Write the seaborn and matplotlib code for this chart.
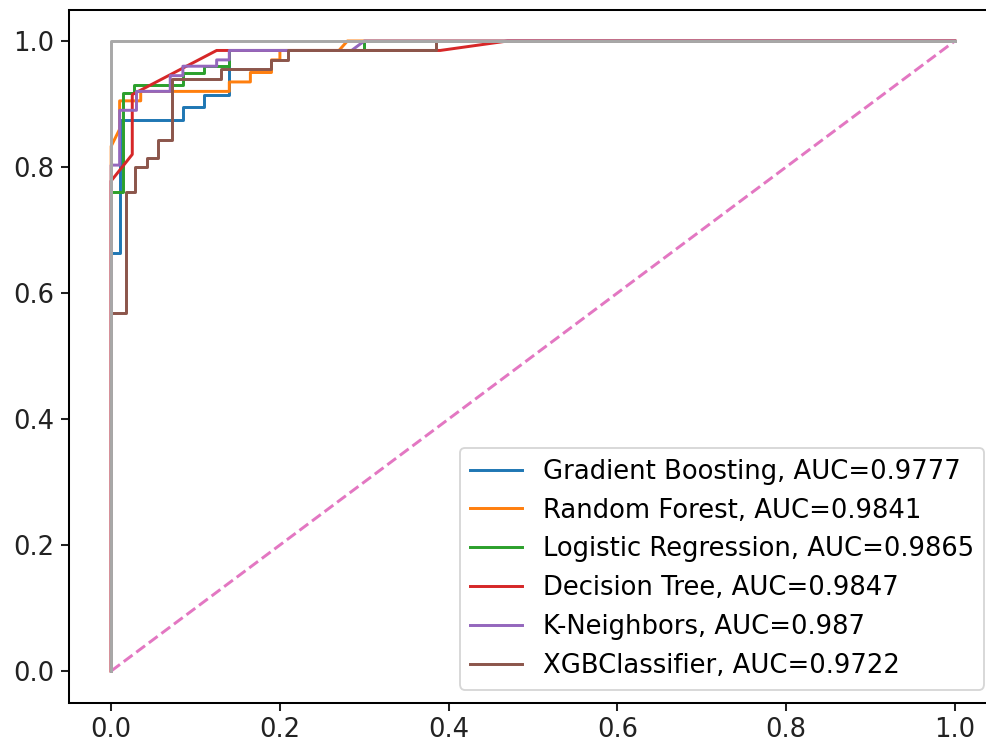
import numpy as np
import pandas as pd
import matplotlib
matplotlib.use("Agg")
import matplotlib.pyplot as plt
import seaborn as sns

# ROC curve points (fpr, tpr)
gb_fpr = [0, 0, 0.01, 0.01, 0.085, 0.085, 0.11, 0.11, 0.14, 0.14, 0.3, 0.3, 1]
gb_tpr = [0, 0.663, 0.663, 0.875, 0.875, 0.895, 0.895, 0.915, 0.915, 0.985, 0.985, 1.0, 1]

rf_fpr = [0, 0, 0.01, 0.01, 0.035, 0.035, 0.14, 0.14, 0.165, 0.165, 0.19, 0.19, 0.2, 0.2, 0.27, 0.28, 1]
rf_tpr = [0, 0.833, 0.86, 0.905, 0.905, 0.92, 0.92, 0.935, 0.935, 0.95, 0.95, 0.97, 0.97, 0.985, 0.985, 1.0, 1]

lr_fpr = [0, 0, 0.014, 0.014, 0.027, 0.027, 0.085, 0.085, 0.11, 0.11, 0.14, 0.14, 0.3, 0.3, 1]
lr_tpr = [0, 0.76, 0.76, 0.917, 0.917, 0.93, 0.93, 0.95, 0.95, 0.96, 0.96, 0.985, 0.985, 1.0, 1]

dt_fpr = [0, 0, 0.025, 0.025, 0.125, 0.39, 0.47, 1]
dt_tpr = [0, 0.778, 0.82, 0.915, 0.985, 0.985, 1.0, 1]

kn_fpr = [0, 0, 0.01, 0.01, 0.03, 0.03, 0.07, 0.07, 0.085, 0.085, 0.125, 0.125, 0.14, 0.14, 0.285, 0.3, 1]
kn_tpr = [0, 0.803, 0.803, 0.89, 0.89, 0.92, 0.92, 0.945, 0.945, 0.96, 0.96, 0.97, 0.97, 0.985, 0.985, 1.0, 1]

xgb_fpr = [0, 0, 0.017, 0.017, 0.028, 0.028, 0.043, 0.043, 0.056, 0.056, 0.072, 0.072,
           0.13, 0.13, 0.19, 0.19, 0.21, 0.21, 0.385, 0.385, 1]
xgb_tpr = [0, 0.568, 0.568, 0.76, 0.76, 0.8, 0.8, 0.815, 0.815, 0.843, 0.843, 0.94,
           0.94, 0.955, 0.955, 0.97, 0.97, 0.985, 0.985, 1.0, 1]

model_names = ["Gradient Boosting", "Random Forest", "Logistic Regression",
               "Decision Tree", "K-Neighbors", "XGBClassifier"]
auc_values = ["0.9777", "0.9841", "0.9865", "0.9847", "0.987", "0.9722"]

chance_x = [0, 1]
chance_y = [0, 1]
perfect_x = [0, 0, 1]
perfect_y = [0, 1, 1]

curves = [(gb_fpr, gb_tpr), (rf_fpr, rf_tpr), (lr_fpr, lr_tpr),
          (dt_fpr, dt_tpr), (kn_fpr, kn_tpr), (xgb_fpr, xgb_tpr)]
colors = ["#1f77b4", "#ff7f0e", "#2ca02c", "#d62728", "#9467bd", "#8c564b"]

DPI = 133
fig = plt.figure(figsize=(986 / DPI, 746 / DPI), dpi=DPI)
ax = fig.add_axes([69 / 986, 1 - 702.5 / 746, 928 / 986, 693 / 746])

LW = 1.6
for (fx, ty), name, auc, c in zip(curves, model_names, auc_values, colors):
    df = pd.DataFrame({"fpr": fx, "tpr": ty})
    sns.lineplot(data=df, x="fpr", y="tpr", sort=False, estimator=None,
                 color=c, linewidth=LW, label=f"{name}, AUC={auc}", ax=ax)

sns.lineplot(x=chance_x, y=chance_y, sort=False, estimator=None, color="#e377c2",
             linestyle="--", linewidth=LW, ax=ax)
sns.lineplot(x=perfect_x, y=perfect_y, sort=False, estimator=None, color="#a8a8a8",
             linewidth=LW, ax=ax)

ax.set_xlim(-0.05, 1.05)
ax.set_ylim(-0.05, 1.05)
ax.set_xticks([0, 0.2, 0.4, 0.6, 0.8, 1.0])
ax.set_yticks([0, 0.2, 0.4, 0.6, 0.8, 1.0])
ax.tick_params(labelsize=14, length=4.5, width=1.1, colors="#222222", labelcolor="#222222")
for s in ax.spines.values():
    s.set_linewidth(1.1)
ax.set_xlabel("")
ax.set_ylabel("")
ax.legend(loc="lower right", fontsize=14, borderaxespad=0.5)

fig.savefig("out.png", dpi=DPI)
